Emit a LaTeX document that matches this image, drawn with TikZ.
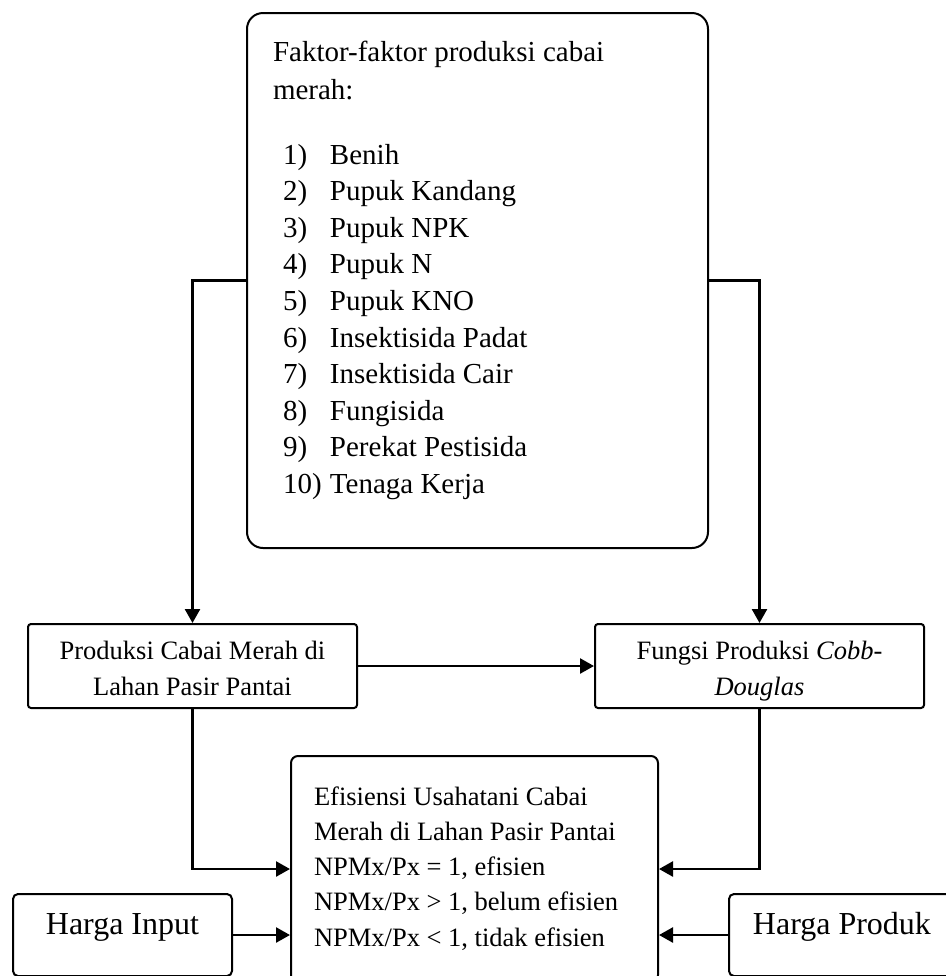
\documentclass[tikz,border=0pt]{standalone}
\usepackage{fontspec}
\setmainfont{Liberation Serif}
\usetikzlibrary{positioning, arrows.meta}

\newcommand{\isikotak}[3]{\begin{minipage}[t][#2][t]{#1}#3\end{minipage}}

\begin{document}
\begin{tikzpicture}[x=0.5pt, y=-0.5pt, thick,
  kotak/.style={draw, line width=1pt, inner ysep=0pt, anchor=north west},
  panah/.style={-{Triangle[length=7pt, width=7.5pt]}, line width=1.25pt}]
  \useasboundingbox (0,0) rectangle (946,976);

  % nodes
  \node [kotak, rounded corners=8pt, inner xsep=13pt] (faktor) at (246,12)
    {\isikotak{204.5pt}{267.5pt}{\fontsize{14.5pt}{18.3pt}\selectfont
      \rule{0pt}{24pt}Faktor-faktor produksi cabai\\[0.7pt]
      merah:\\[14.2pt]
      \hspace*{5pt}\makebox[23.5pt][l]{1)}Benih\\
      \hspace*{5pt}\makebox[23.5pt][l]{2)}Pupuk Kandang\\
      \hspace*{5pt}\makebox[23.5pt][l]{3)}Pupuk NPK\\
      \hspace*{5pt}\makebox[23.5pt][l]{4)}Pupuk N\\
      \hspace*{5pt}\makebox[23.5pt][l]{5)}Pupuk KNO\\
      \hspace*{5pt}\makebox[23.5pt][l]{6)}Insektisida Padat\\
      \hspace*{5pt}\makebox[23.5pt][l]{7)}Insektisida Cair\\
      \hspace*{5pt}\makebox[23.5pt][l]{8)}Fungisida\\
      \hspace*{5pt}\makebox[23.5pt][l]{9)}Perekat Pestisida\\
      \hspace*{5pt}\makebox[23.5pt][l]{10)}Tenaga Kerja}};
  \node [kotak, rounded corners=1.5pt, inner xsep=0pt] (produksi) at (27,623)
    {\isikotak{164.5pt}{42pt}{\centering\fontsize{13.25pt}{18pt}\selectfont
      \rule{0pt}{17.5pt}Produksi Cabai Merah di\\ Lahan Pasir Pantai}};
  \node [kotak, rounded corners=1.5pt, inner xsep=0pt, right=118pt of produksi] (fungsi)
    {\isikotak{164.5pt}{42pt}{\centering\fontsize{13.25pt}{18pt}\selectfont
      \rule{0pt}{17.5pt}Fungsi Produksi \textit{Cobb-}\\ \textit{Douglas}}};
  \node [kotak, rounded corners=3.5pt, inner xsep=11.5pt] (efisiensi) at (290,755)
    {\isikotak{160.5pt}{113pt}{\fontsize{13.25pt}{17.65pt}\selectfont
      \rule{0pt}{24.5pt}Efisiensi Usahatani Cabai\\
      Merah di Lahan Pasir Pantai\\
      NPMx/Px = 1, efisien\\
      NPMx/Px > 1, belum efisien\\
      NPMx/Px < 1, tidak efisien}};
  \node [kotak, rounded corners=2.5pt, inner xsep=0pt] (hargainput) at (12,893)
    {\isikotak{109.5pt}{41pt}{\centering\fontsize{16pt}{19pt}\selectfont
      \rule{0pt}{20pt}Harga Input}};
  \node [kotak, rounded corners=2.5pt, inner xsep=0pt] (hargaproduk) at (728,893)
    {\isikotak{113pt}{41pt}{\centering\fontsize{16pt}{19pt}\selectfont
      \rule{0pt}{20pt}Harga Produk}};

  % edges
  \draw [panah] (faktor.west) -| (produksi.north);
  \draw [panah] (faktor.east) -| (fungsi.north);
  \draw [panah] (produksi.east) -- (fungsi.west);
  \draw [panah] (produksi.south) |- (efisiensi.west);
  \draw [panah] (fungsi.south) |- (efisiensi.east);
  \draw [panah] (hargainput.east) -- (hargainput.east -| efisiensi.west);
  \draw [panah] (hargaproduk.west) -- (hargaproduk.west -| efisiensi.east);
\end{tikzpicture}
\end{document}
